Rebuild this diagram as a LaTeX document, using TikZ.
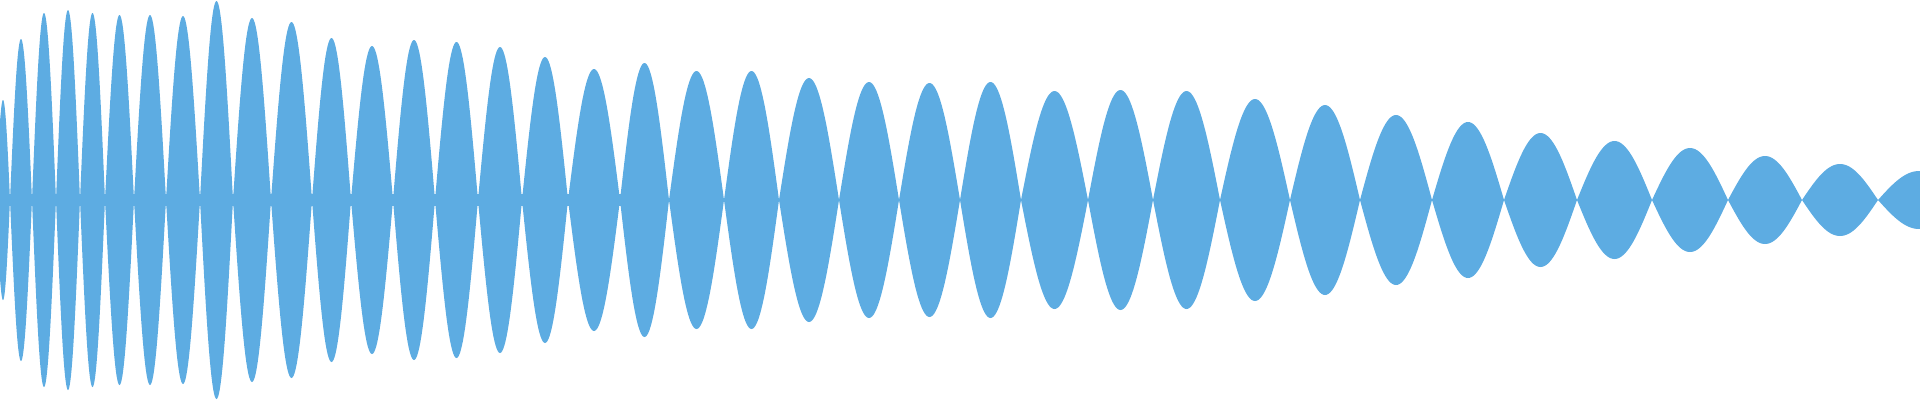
\documentclass[tikz,border=0pt]{standalone}
\definecolor{wave}{RGB}{93,172,226}
\begin{document}
\begin{tikzpicture}[x=1pt,y=-1pt]
\useasboundingbox (0,0) rectangle (1920,400);
\clip (0,0) rectangle (1920,400);
\fill[wave] (0,194) rectangle (660,206);
\foreach \a/\b/\t in {-4/10/100,10/32/39,32/56/13,56/80/10,80/105/13,105/134/15,134/166/15,166/200/16,200/233/1,233/271/18,271/312/22,312/351/38,351/393/46,393/435/40,435/478/42,478/522/47,522/568/57,568/620/69,620/669/63,669/724/71,724/779/71,779/839/78,839/899/82,899/960/83,960/1021/82,1021/1088/91,1088/1153/90,1153/1220/91,1220/1290/99,1290/1360/105,1360/1432/115,1432/1504/122,1504/1577/133,1577/1652/141,1652/1728/148,1728/1802/156,1802/1878/164,1878/1960/171}{
  \fill[wave] plot[domain=0:180,samples=41,variable=\s] ({\a+(\b-\a)*\s/180},{200-(200-\t)*sin(\s)})
    -- plot[domain=180:0,samples=41,variable=\s] ({\a+(\b-\a)*\s/180},{200+(200-\t)*sin(\s)}) -- cycle;
}
\end{tikzpicture}
\end{document}
